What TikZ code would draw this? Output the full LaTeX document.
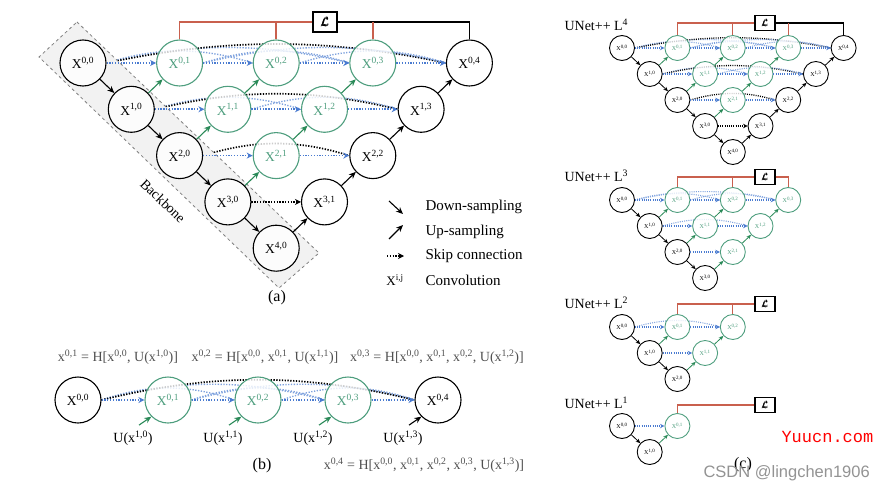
\documentclass[tikz,border=0pt]{standalone}
\usepackage{amsmath}
\usepackage{fontspec}
\setmainfont{Liberation Serif}
\newfontfamily\wmsans{Liberation Sans}
\newfontfamily\wmmono{Liberation Mono}
\usetikzlibrary{arrows.meta,calc}
\pgfdeclarelayer{bg}
\pgfsetlayers{bg,main}
\definecolor{ngreen}{HTML}{4E9E7E}
\definecolor{agreen}{HTML}{2A8A58}
\definecolor{sblue}{HTML}{4A7BD0}
\definecolor{lred}{HTML}{C9604E}
\definecolor{txtgray}{HTML}{505050}
\newcommand\lossL{$\pmb{\mathcal{L}}$}

\newcommand\unetpp[6]{%
 \foreach \i in {0,...,#2}{%
  \pgfmathtruncatemacro\jm{#2-\i}%
  \foreach \j in {0,...,\jm}{%
   \pgfmathsetmacro\xx{#3+#5*(\i+2*\j)}%
   \pgfmathsetmacro\yy{#4+#6*\i}%
   \ifnum\j=0 \def\nc{kn}\else\ifnum\numexpr\i+\j\relax=4 \def\nc{kn}\else\def\nc{gn}\fi\fi
   \node[\nc] (#1\i\j) at (\xx,\yy) {X\textsuperscript{\i,\j}};%
  }%
 }%
 \foreach \i in {0,...,#2}{%
  \pgfmathtruncatemacro\jm{#2-\i}%
  \pgfmathtruncatemacro\ip{\i+1}%
  \foreach \j in {0,...,\jm}{%
   \pgfmathtruncatemacro\jp{\j-1}%
   \ifnum\j=0
     \ifnum\i<#2 \draw[dnar] (#1\i0) -- (#1\ip0);\fi
   \else
     \ifnum\numexpr\i+\j\relax=4 \def\uc{upk}\else\def\uc{upg}\fi
     \draw[\uc] (#1\ip\jp) -- (#1\i\j);
     \ifnum\i=3 \def\sc{skk}\else\def\sc{skb}\fi
     \draw[\sc] (#1\i\jp.east) -- (#1\i\j.west);
     \ifnum\j>1
       \pgfmathtruncatemacro\km{\j-2}%
       \foreach \k in {0,...,\km}{%
         \pgfmathtruncatemacro\mm{\j-\k}%
         \pgfmathsetmacro\hh{0.35*(2*#5*\mm-2*\nr)}%
         \pgfmathsetmacro\pp{\nr*(0.3+0.2*\mm)}%
         \pgfmathtruncatemacro\isblk{(#2==4)&&(\k==0)&&(\i+\j==4)}%
         \ifnum\isblk=1 \def\ac{arck}\else\def\ac{arcb}\fi
         \begin{pgfonlayer}{bg}
         \draw[\ac] (#1\i\k.east) .. controls ($(#1\i\k.east)+(\hh,-\pp)$) and ($(#1\i\j.west)+(-\hh,-\pp)$) .. (#1\i\j.west);
         \end{pgfonlayer}
       }%
     \fi
   \fi
  }%
 }%
}

\begin{document}
\begin{tikzpicture}[x=1pt,y=-1pt,
  redl/.style={draw=lred,line width=1.5pt},
  blkl/.style={draw=black,line width=1.5pt},
  reds/.style={draw=lred,line width=1.1pt},
  blks/.style={draw=black,line width=1.1pt},
  lossbig/.style={draw,line width=1.6pt,fill=white,minimum width=24pt,minimum height=20pt,inner sep=0pt,font=\fontsize{13}{13}\selectfont},
  losssm/.style={draw,line width=1.2pt,fill=white,minimum width=20pt,minimum height=15pt,inner sep=0pt,font=\fontsize{9}{9}\selectfont},
  bigsty/.style={
    kn/.style={circle,draw=black,line width=1.1pt,fill=white,fill opacity=0.8,text opacity=1,minimum size=46pt,inner sep=0pt,font=\fontsize{13.5}{15}\selectfont},
    gn/.style={kn,draw=ngreen,text=ngreen},
    dnar/.style={black,line width=1.1pt,-{Stealth[length=7pt,width=6pt]}},
    upk/.style={dnar},
    upg/.style={dnar,agreen},
    skb/.style={sblue,line width=1.7pt,dash pattern=on 1.3pt off 1.5pt,-{Stealth[length=6pt,width=6pt]}},
    skk/.style={skb,black},
    arcb/.style={sblue!70,line width=1.4pt,dash pattern=on 1.3pt off 1.5pt},
    arck/.style={black,line width=1.7pt,dash pattern=on 1.3pt off 1.5pt}},
  smallsty/.style={
    kn/.style={circle,draw=black,line width=0.9pt,fill=white,fill opacity=0.8,text opacity=1,minimum size=25pt,inner sep=0pt,font=\fontsize{6}{7}\selectfont},
    gn/.style={kn,draw=ngreen,text=ngreen},
    dnar/.style={black,line width=0.8pt,-{Stealth[length=4.5pt,width=4pt]}},
    upk/.style={dnar},
    upg/.style={dnar,agreen},
    skb/.style={sblue,line width=1.3pt,dash pattern=on 1pt off 1.2pt,-{Stealth[length=4.5pt,width=4.5pt]}},
    skk/.style={skb,black},
    arcb/.style={sblue!70,line width=1.1pt,dash pattern=on 1pt off 1.2pt},
    arck/.style={black,line width=1.3pt,dash pattern=on 1pt off 1.2pt}}
]
\useasboundingbox (0,0) rectangle (890,492);

% ---------- (a) ----------
\draw[gray,dashed,line width=0.8pt,fill=gray!10] (77,22) -- (319,253) -- (279,288) -- (39,57) -- cycle;
\node[rotate=-43.7,font=\fontsize{14}{14}\selectfont] (bbtxt) at (163,201) {Backbone};
\begin{scope}[bigsty]
\def\nr{23}
\unetpp{a}{4}{83}{63}{48.3}{46.3}
\end{scope}
\node[lossbig] (aL) at (325,22) {\lossL};
\draw[redl] (a01.north) |- (aL.west);
\draw[redl] (a02.north) -- (a02.north |- aL.west);
\draw[blkl] (aL.east) -| (a04.north);
\draw[redl] (a03.north) -- (a03.north |- aL.east);

% legend
\begin{scope}[bigsty]
\coordinate (ld1) at (389,201); \coordinate (ld2) at (403,214);
\coordinate (lu1) at (389,239); \coordinate (lu2) at (403,225);
\coordinate (ls1) at (387,256); \coordinate (ls2) at (404,256);
\draw[dnar] (ld1) -- (ld2);
\draw[dnar] (lu1) -- (lu2);
\draw[skk] (ls1) -- (ls2);
\end{scope}
\begin{scope}[every node/.style={anchor=west,font=\fontsize{15}{16}\selectfont}]
\node (lt1) at (422,207) {Down-sampling};
\node (lt2) at (422,232) {Up-sampling};
\node (lt3) at (422,256) {Skip connection};
\node (lt4) at (422,280) {Convolution};
\end{scope}
\node[font=\fontsize{13}{14}\selectfont] (lx) at (395,280) {X\textsuperscript{i,j}};
\node[font=\fontsize{16}{16}\selectfont] (capa) at (277,298) {(a)};

% ---------- (b) ----------
\begin{scope}[bigsty]
\node[kn] (b0) at (78,400) {X\textsuperscript{0,0}};
\node[gn] (b1) at (168,400) {X\textsuperscript{0,1}};
\node[gn] (b2) at (258,400) {X\textsuperscript{0,2}};
\node[gn] (b3) at (348,400) {X\textsuperscript{0,3}};
\node[kn] (b4) at (438,400) {X\textsuperscript{0,4}};
\foreach \a/\b in {0/1,1/2,2/3,3/4}{\draw[skb] (b\a.east) -- (b\b.west);}
\begin{pgfonlayer}{bg}
\foreach \a/\b/\h/\p in {0/2/46/16,1/3/46/16,2/4/46/16,0/3/78/21,1/4/78/21}{
  \draw[arcb] (b\a.east) .. controls ($(b\a.east)+(\h,-\p)$) and ($(b\b.west)+(-\h,-\p)$) .. (b\b.west);}
\draw[arck] (b0.east) .. controls ($(b0.east)+(110,-27)$) and ($(b4.west)+(-110,-27)$) .. (b4.west);
\end{pgfonlayer}
\end{scope}
\begin{scope}[every node/.style={font=\fontsize{14}{15}\selectfont}]
\node (u1) at (133,438) {U(x\textsuperscript{1,0})};
\node (u2) at (223,438) {U(x\textsuperscript{1,1})};
\node (u3) at (313,438) {U(x\textsuperscript{1,2})};
\node (u4) at (403,438) {U(x\textsuperscript{1,3})};
\end{scope}
\begin{scope}[bigsty]
\draw[upg] ([xshift=6pt,yshift=2pt]u1.north) -- (b1.south west);
\draw[upg] ([xshift=6pt,yshift=2pt]u2.north) -- (b2.south west);
\draw[upg] ([xshift=6pt,yshift=2pt]u3.north) -- (b3.south west);
\draw[upk] ([xshift=6pt,yshift=2pt]u4.north) -- (b4.south west);
\end{scope}
\begin{scope}[every node/.style={text=txtgray,font=\fontsize{14}{15}\selectfont}]
\node (f1) at (118,357) {x\textsuperscript{0,1} = H[x\textsuperscript{0,0}, U(x\textsuperscript{1,0})]};
\node (f2) at (265,357) {x\textsuperscript{0,2} = H[x\textsuperscript{0,0}, x\textsuperscript{0,1}, U(x\textsuperscript{1,1})]};
\node (f3) at (437,357) {x\textsuperscript{0,3} = H[x\textsuperscript{0,0}, x\textsuperscript{0,1}, x\textsuperscript{0,2}, U(x\textsuperscript{1,2})]};
\node (f4) at (424,465) {x\textsuperscript{0,4} = H[x\textsuperscript{0,0}, x\textsuperscript{0,1}, x\textsuperscript{0,2}, x\textsuperscript{0,3}, U(x\textsuperscript{1,3})]};
\end{scope}
\node[font=\fontsize{16}{16}\selectfont] (capb) at (262,466) {(b)};

% ---------- (c) ----------
\begin{scope}[smallsty]
\def\nr{12.5}
\unetpp{p}{4}{622}{48}{27.7}{26}
\unetpp{q}{3}{622}{200}{27.7}{26}
\unetpp{r}{2}{622}{327}{27.7}{26}
\unetpp{s}{1}{622}{426}{27.7}{26}
\end{scope}
\begin{scope}[every node/.style={anchor=west,font=\fontsize{14}{15}\selectfont}]
\node (t4) at (561,25) {UNet++ L\textsuperscript{4}};
\node (t3) at (561,176) {UNet++ L\textsuperscript{3}};
\node (t2) at (561,303) {UNet++ L\textsuperscript{2}};
\node (t1) at (561,403) {UNet++ L\textsuperscript{1}};
\end{scope}
\node[losssm] (pL) at (765,23) {\lossL};
\draw[reds] (p01.north) |- (pL.west);
\draw[reds] (p02.north) -- (p02.north |- pL.west);
\draw[blks] (pL.east) -| (p04.north);
\draw[reds] (p03.north) -- (p03.north |- pL.east);
\node[losssm] (qL) at (765,177) {\lossL};
\draw[reds] (q01.north) |- (qL.west);
\draw[reds] (q02.north) -- (q02.north |- qL.west);
\draw[reds] (qL.east) -| (q03.north);
\node[losssm] (rL) at (765,304) {\lossL};
\draw[reds] (r01.north) |- (rL.west);
\draw[reds] (r02.north) -- (r02.north |- rL.west);
\node[losssm] (sL) at (765,405) {\lossL};
\draw[reds] (s01.north) |- (sL.west);
\node[font=\fontsize{16}{16}\selectfont] (capc) at (743,465) {(c)};

% watermarks
\node[anchor=west,text=red,font=\wmmono\fontsize{17}{17}\selectfont] (wm1) at (778,437) {Yuucn.com};
\node[anchor=west,text=gray!85,font=\wmsans\fontsize{16.5}{17}\selectfont] (wm2) at (700,473) {CSDN @lingchen1906};
\end{tikzpicture}
\end{document}
